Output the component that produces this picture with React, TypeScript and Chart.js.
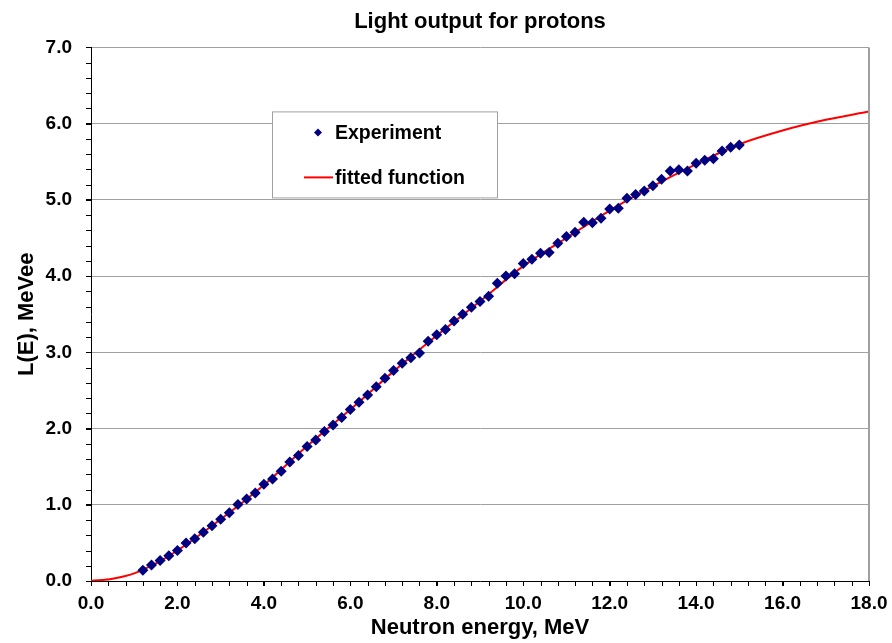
import React, { useEffect, useRef } from 'react';
import { Chart, registerables } from 'chart.js';

Chart.register(...registerables);

const chartTitle = 'Light output for protons';
const xTitle = 'Neutron energy, MeV';
const yTitle = 'L(E), MeVee';
const legendLabels = ['Experiment', 'fitted function'];

const energies = [
  1.2, 1.4, 1.6, 1.8, 2.0, 2.2, 2.4, 2.6, 2.8, 3.0,
  3.2, 3.4, 3.6, 3.8, 4.0, 4.2, 4.4, 4.6, 4.8, 5.0,
  5.2, 5.4, 5.6, 5.8, 6.0, 6.2, 6.4, 6.6, 6.8, 7.0,
  7.2, 7.4, 7.6, 7.8, 8.0, 8.2, 8.4, 8.6, 8.8, 9.0,
  9.2, 9.4, 9.6, 9.8, 10.0, 10.2, 10.4, 10.6, 10.8, 11.0,
  11.2, 11.4, 11.6, 11.8, 12.0, 12.2, 12.4, 12.6, 12.8, 13.0,
  13.2, 13.4, 13.6, 13.8, 14.0, 14.2, 14.4, 14.6, 14.8, 15.0,
];
const lightOutput = [
  0.14, 0.21, 0.27, 0.33, 0.40, 0.50, 0.555, 0.64, 0.725, 0.81,
  0.895, 1.005, 1.075, 1.153, 1.27, 1.337, 1.44, 1.56, 1.647, 1.765,
  1.85, 1.96, 2.045, 2.145, 2.25, 2.346, 2.44, 2.547, 2.66, 2.76,
  2.857, 2.93, 2.99, 3.145, 3.23, 3.30, 3.41, 3.50, 3.59, 3.665,
  3.735, 3.905, 4.0, 4.03, 4.165, 4.22, 4.30, 4.31, 4.43, 4.52,
  4.575, 4.705, 4.70, 4.76, 4.88, 4.89, 5.02, 5.07, 5.115, 5.185,
  5.27, 5.38, 5.395, 5.38, 5.48, 5.52, 5.54, 5.64, 5.69, 5.72,
];

const fitEnergies = [0, 0.5, 1, 1.5, 2, 3, 4, 5, 6, 7, 8, 9, 10, 11, 12, 13, 14, 15, 16, 17, 18];
const fitValues = [0, 0.03, 0.10, 0.23, 0.40, 0.81, 1.26, 1.77, 2.25, 2.75, 3.22, 3.67, 4.13, 4.50, 4.86, 5.18, 5.47, 5.73, 5.91, 6.05, 6.16];

const xMin = 0, xMax = 18, xStep = 2, xMinorStep = 0.4;
const yMin = 0, yMax = 7, yStep = 1, yMinorStep = 0.2;

const FONT = '"Liberation Sans", Arial, sans-serif';
const GRID = '#a0a0a0';
const MARKER = '#000080';

const extrasPlugin = {
  id: 'extras',
  afterDraw(chart: any) {
    const { ctx, chartArea: ca, scales } = chart;
    const xs = scales.x, ys = scales.y;
    ctx.save();
    // right frame
    ctx.strokeStyle = GRID;
    ctx.lineWidth = 2;
    ctx.beginPath();
    ctx.moveTo(ca.right, ca.top);
    ctx.lineTo(ca.right, ca.bottom);
    ctx.stroke();
    // minor ticks
    ctx.strokeStyle = '#000';
    ctx.lineWidth = 1;
    ctx.beginPath();
    const nx = Math.round((xMax - xMin) / xMinorStep);
    for (let k = 0; k <= nx; k++) {
      const px = Math.round(xs.getPixelForValue(xMin + k * xMinorStep)) + 0.5;
      ctx.moveTo(px, ca.bottom);
      ctx.lineTo(px, ca.bottom + 5);
    }
    const ny = Math.round((yMax - yMin) / yMinorStep);
    for (let k = 0; k <= ny; k++) {
      const py = Math.round(ys.getPixelForValue(yMin + k * yMinorStep)) + 0.5;
      ctx.moveTo(ca.left - 5, py);
      ctx.lineTo(ca.left, py);
    }
    ctx.stroke();
    // legend
    const bx = ca.left + 181, by = ca.top + 64, bw = 225, bh = 86;
    ctx.fillStyle = '#fff';
    ctx.fillRect(bx, by, bw, bh);
    ctx.strokeStyle = GRID;
    ctx.lineWidth = 1;
    ctx.strokeRect(bx + 0.5, by + 0.5, bw, bh);
    const y1 = ca.top + 85, y2 = ca.top + 130;
    ctx.fillStyle = MARKER;
    ctx.beginPath();
    const mx = ca.left + 227, r = 4;
    ctx.moveTo(mx, y1 - r);
    ctx.lineTo(mx + r, y1);
    ctx.lineTo(mx, y1 + r);
    ctx.lineTo(mx - r, y1);
    ctx.closePath();
    ctx.fill();
    ctx.strokeStyle = '#ff0000';
    ctx.lineWidth = 2;
    ctx.beginPath();
    ctx.moveTo(ca.left + 213, y2);
    ctx.lineTo(ca.left + 242, y2);
    ctx.stroke();
    ctx.fillStyle = '#000';
    ctx.font = `bold 19.5px ${FONT}`;
    ctx.textBaseline = 'middle';
    ctx.textAlign = 'left';
    ctx.fillText(legendLabels[0], ca.left + 244, y1 + 1);
    ctx.fillText(legendLabels[1], ca.left + 244, y2 + 1);
    ctx.restore();
  },
};

export default function App() {
  const ref = useRef<HTMLCanvasElement>(null);
  useEffect(() => {
    if (!ref.current) return;
    const chart = new Chart(ref.current, {
      type: 'scatter',
      data: {
        datasets: [
          {
            label: legendLabels[0],
            data: energies.map((e, i) => ({ x: e, y: lightOutput[i] })),
            pointStyle: 'rectRot',
            pointRadius: 5.5,
            backgroundColor: MARKER,
            borderColor: MARKER,
            borderWidth: 0,
            showLine: false,
          },
          {
            label: legendLabels[1],
            data: fitEnergies.map((e, i) => ({ x: e, y: fitValues[i] })),
            showLine: true,
            pointRadius: 0,
            borderColor: '#ff0000',
            backgroundColor: '#ff0000',
            borderWidth: 2,
            cubicInterpolationMode: 'monotone',
          },
        ],
      } as any,
      options: {
        responsive: false,
        animation: false,
        layout: { padding: { left: 0, right: 23, top: 0, bottom: 0 } },
        plugins: {
          legend: { display: false },
          tooltip: { enabled: false },
          title: {
            display: true,
            text: chartTitle,
            color: '#000',
            font: { family: FONT, size: 22, weight: 'bold' },
            padding: { top: 9, bottom: 12 },
            fullSize: false,
          } as any,
        },
        scales: {
          x: {
            type: 'linear',
            min: xMin,
            max: xMax,
            afterFit: (s: any) => { s.height = 62; s.paddingRight = 0; s.paddingLeft = 0; },
            ticks: {
              stepSize: xStep,
              color: '#000',
              font: { family: FONT, size: 19, weight: 'bold' },
              padding: 6,
              maxRotation: 0,
              callback: (v: any) => Number(v).toFixed(1),
            },
            grid: { drawOnChartArea: false, color: '#000', tickColor: '#000', tickLength: 5 },
            border: { color: '#000', width: 1 },
            title: {
              display: true,
              text: xTitle,
              color: '#000',
              font: { family: FONT, size: 22, weight: 'bold' },
              padding: { top: 0, bottom: 2 },
            },
          },
          y: {
            type: 'linear',
            min: yMin,
            max: yMax,
            afterFit: (s: any) => { s.width = 91; },
            ticks: {
              stepSize: yStep,
              color: '#000',
              font: { family: FONT, size: 19, weight: 'bold' },
              padding: 14,
              callback: (v: any) => Number(v).toFixed(1),
            },
            grid: {
              color: (c: any) => (c.tick && c.tick.value === 0 ? 'rgba(0,0,0,0)' : GRID),
              tickColor: '#000',
              tickLength: 5,
            },
            border: { color: '#000', width: 1 },
            title: {
              display: true,
              text: yTitle,
              color: '#000',
              font: { family: FONT, size: 22, weight: 'bold' },
              padding: { top: 14, bottom: 0 },
            },
          },
        },
      } as any,
      plugins: [extrasPlugin],
    });
    return () => chart.destroy();
  }, []);
  return (
    <div style={{ position: 'fixed', left: 0, top: 0, width: 892, height: 643, background: '#fff' }}>
      <canvas ref={ref} width={892} height={643} style={{ display: 'block' }} />
    </div>
  );
}
